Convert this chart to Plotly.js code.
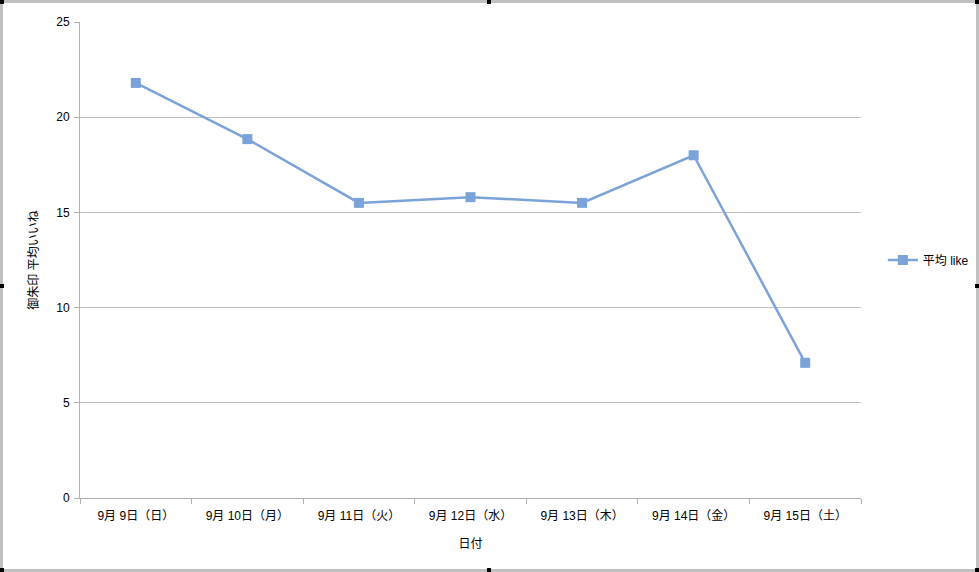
<!DOCTYPE html>
<html><head><meta charset="utf-8">
<script src="https://cdn.plot.ly/plotly-3.0.1.min.js"></script>
<style>
html,body{margin:0;padding:0;background:#fff;}
#wrap{position:relative;width:979px;height:572px;overflow:hidden;}
#chart{position:absolute;left:0;top:0;width:979px;height:572px;}
.frame{position:absolute;left:0;top:0;width:973px;height:566px;border:3px solid #c0c0c0;pointer-events:none;}
.h{position:absolute;width:4px;height:4px;background:#000;}
</style>
</head><body>
<div id="wrap">
<div id="chart"></div>
<div class="frame"></div>
<div class="h" style="left:0;top:0"></div>
<div class="h" style="left:487px;top:0"></div>
<div class="h" style="left:975px;top:0"></div>
<div class="h" style="left:0;top:284px"></div>
<div class="h" style="left:975px;top:284px"></div>
<div class="h" style="left:0;top:568px"></div>
<div class="h" style="left:487px;top:568px"></div>
<div class="h" style="left:975px;top:568px"></div>
</div>
<script>
const categories = ["9月 9日（日）","9月 10日（月）","9月 11日（火）","9月 12日（水）","9月 13日（木）","9月 14日（金）","9月 15日（土）"];
const avgLike = [21.8, 18.85, 15.5, 15.8, 15.5, 18.0, 7.1];
const yTicks = [0,5,10,15,20,25];
const seriesName = "平均 like";
const xTitle = "日付";
const yTitle = "御朱印 平均いいね";

const font = {family: "Liberation Sans, Arial, Noto Sans CJK JP, sans-serif", size: 12, color: "#000"};
const lineColor = "#7ba3d9";

Plotly.newPlot("chart", [{
  x: categories, y: avgLike, type: "scatter", mode: "lines+markers", name: seriesName,
  line: {color: lineColor, width: 2.5},
  marker: {symbol: "square", size: 10, color: lineColor}
}], {
  width: 979, height: 572,
  margin: {l: 80, r: 118, t: 22, b: 74, autoexpand: false},
  paper_bgcolor: "#fff", plot_bgcolor: "#fff",
  font: font,
  showlegend: true,
  legend: {x: 1.028, y: 0.5, xanchor: "left", yanchor: "middle", font: font, bgcolor: "rgba(0,0,0,0)"},
  xaxis: {
    type: "category", tickson: "boundaries", ticks: "outside", ticklen: 5, tickcolor: "#b0b0b0",
    showline: true, linecolor: "#b0b0b0", linewidth: 1, showgrid: false, zeroline: false,
    tickfont: font, range: [-0.5, 6.5], ticklabelstandoff: 7,
    title: {text: xTitle, font: font, standoff: 17}
  },
  yaxis: {
    range: [0, 25], tickvals: yTicks, ticks: "outside", ticklen: 5, tickcolor: "#b0b0b0",
    showline: true, linecolor: "#b0b0b0", linewidth: 1, showgrid: true, gridcolor: "#c0c0c0",
    zeroline: false, tickfont: font, ticklabelstandoff: 2,
    title: {text: yTitle, font: font, standoff: 15}
  }
}, {displayModeBar: false, staticPlot: true});
</script>
</body></html>
